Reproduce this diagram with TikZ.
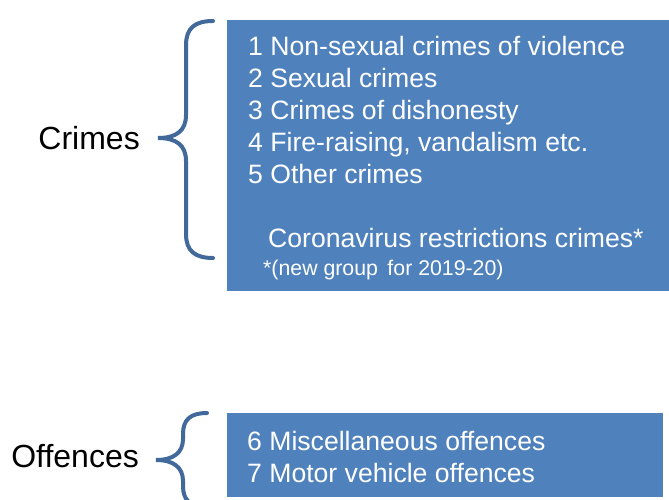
\documentclass[tikz,border=0pt]{standalone}
\usepackage{fontspec}
\setmainfont{Liberation Sans}
\definecolor{boxblue}{HTML}{4F81BD}
\definecolor{bracecol}{HTML}{41699A}
\begin{document}
\begin{tikzpicture}[x=1pt,y=-1pt,
  panel/.style={fill=boxblue,draw=none,anchor=north west,inner sep=0pt},
  itemtext/.style={anchor=base west,inner sep=0pt,text=white,font=\fontsize{26.6}{30}\selectfont},
  notetext/.style={anchor=base west,inner sep=0pt,text=white,font=\fontsize{21.3}{24}\selectfont},
  grouplabel/.style={anchor=base east,inner sep=0pt,text=black,font=\fontsize{32}{36}\selectfont},
  bracestroke/.style={draw=bracecol,line width=4pt,line cap=round}]
\useasboundingbox (0,0) rectangle (669,499);
\begin{scope}
\clip (0,0) rectangle (669,499);
\node[panel,minimum width=442pt,minimum height=271pt] (crimebox) at (227,20) {};
\node[panel,minimum width=436pt,minimum height=84pt] (offbox) at (227,413) {};
\node[itemtext] (c1) at (248,55) {1 Non-sexual crimes of violence};
\node[itemtext] (c2) at (248,87.5) {2 Sexual crimes};
\node[itemtext] (c3) at (248,119.5) {3 Crimes of dishonesty};
\node[itemtext] (c4) at (248,151.5) {4 Fire-raising, vandalism etc.};
\node[itemtext] (c5) at (248,183) {5 Other crimes};
\node[itemtext] (cv) at (268,247) {Coronavirus restrictions crimes*};
\node[notetext] (note) at (263,275) {*(new group\, for 2019-20)};
\node[itemtext] (o6) at (247,450) {6 Miscellaneous offences};
\node[itemtext] (o7) at (247,482) {7 Motor vehicle offences};
\node[grouplabel] (crimes) at (140,149) {Crimes};
\node[grouplabel] (offences) at (139,467) {Offences};
\draw[bracestroke] (213,21) .. controls (195,21) and (186,28) .. (186,45) -- (186,115)
  .. controls (186,131) and (176,138) .. (158,138)
  .. controls (176,138) and (186,145) .. (186,161) -- (186,234)
  .. controls (186,251) and (195,258) .. (213,258);
\draw[bracestroke] (207,413) .. controls (190,413) and (183,420) .. (183,434) -- (183,439)
  .. controls (183,453) and (173,460) .. (156,460)
  .. controls (173,460) and (183,467) .. (183,481) -- (183,486)
  .. controls (183,500) and (190,507) .. (207,507);
\end{scope}
\end{tikzpicture}
\end{document}
